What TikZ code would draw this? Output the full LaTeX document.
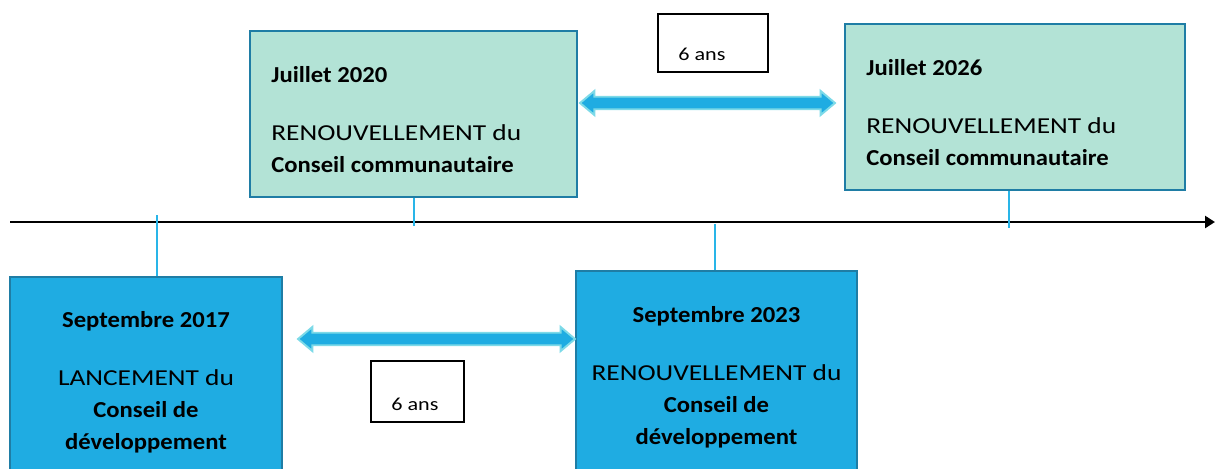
\documentclass[tikz,border=0pt]{standalone}
\usepackage{fontspec}
\setmainfont{Carlito}[UprightFeatures={FakeStretch=1.2}, BoldFeatures={FakeStretch=1.08}]
\usepackage{xcolor}
\definecolor{BoxGreen}{RGB}{179,227,214}
\definecolor{BoxBlue}{RGB}{31,172,226}
\definecolor{Edge}{RGB}{31,125,165}
\definecolor{Tick}{RGB}{41,181,232}
\definecolor{ArrowRim}{RGB}{125,218,232}
\usetikzlibrary{shapes, shapes.arrows, arrows.meta}

\begin{document}
\begin{tikzpicture}[
	boxgreen/.style={draw=Edge, fill=BoxGreen, line width=1.4pt, inner sep=0cm},
	boxblue/.style={draw=Edge, fill=BoxBlue, line width=1.4pt, inner sep=0cm},
	yearbox/.style={draw=black, line width=0.8pt, inner sep=0cm},
	gaparrow/.style={double arrow, draw=ArrowRim, fill=BoxBlue, line width=1.1pt,
		minimum width=0.48cm, inner sep=0.1cm, double arrow head extend=0.11cm,
		double arrow tip angle=80},
	tick/.style={draw=Tick, line width=1.1pt},
	txt/.style={inner sep=0cm, font=\fontsize{13}{18.2}\selectfont},
	small/.style={inner sep=0cm, font=\fontsize{10.5}{12}\selectfont}]
	\begin{scope}[x=0.02cm, y=-0.02cm]
	\useasboundingbox (0,0) rectangle (1215,468);
	\clip (0,0) rectangle (1215,468);

	% time axis
	\coordinate (ax0) at (10,222);
	\coordinate (ax1) at (1215,222);
	\draw[line width=1.4pt, -{Triangle[length=0.2cm, width=0.24cm]}] (ax0) -- (ax1);

	% top boxes
	\node[boxgreen, minimum width=6.54cm, minimum height=3.32cm] (b20) at (413.5,114) {};
	\node[boxgreen, minimum width=6.8cm, minimum height=3.32cm] (b26) at (1015,107) {};

	% bottom boxes
	\node[boxblue, minimum width=5.44cm, minimum height=4.06cm] (b17) at (146,378.5) {};
	\node[boxblue, minimum width=5.62cm, minimum height=4.18cm] (b23) at (716.5,375.5) {};

	% ticks on the axis
	\coordinate (t17) at (157,215);
	\coordinate (t20) at (414,226);
	\coordinate (t23) at (715,224);
	\coordinate (t26) at (1009,228);
	\draw[tick] (t17) -- (t17 |- b17.north);
	\draw[tick] (t20) -- (t20 |- b20.south);
	\draw[tick] (t23) -- (t23 |- b23.north);
	\draw[tick] (t26) -- (t26 |- b26.south);

	% six years
	\node[gaparrow, minimum height=5.1cm] (g1) at (707.5,103) {};
	\node[gaparrow, minimum height=5.54cm] (g2) at (436.5,339) {};
	\node[yearbox, minimum width=2.2cm, minimum height=1.16cm] (y1) at (713,43) {};
	\node[yearbox, minimum width=1.86cm, minimum height=1.22cm] (y2) at (417.5,391.5) {};
	\node[small, anchor=base west] (n1) at (678,60) {6 ans};
	\node[small, anchor=base west] (n2) at (391,410) {6 ans};

	% texts (base = last line)
	\node[txt, anchor=base west, align=left] (l20) at (271,172)
		{\textbf{Juillet 2020}\\[14.8pt] RENOUVELLEMENT du\\ \textbf{Conseil communautaire}};
	\node[txt, anchor=base west, align=left] (l26) at (866,165)
		{\textbf{Juillet 2026}\\[14.8pt] RENOUVELLEMENT du\\ \textbf{Conseil communautaire}};
	\node[txt, anchor=base, align=center] (l17) at (146,449)
		{\textbf{Septembre 2017}\\[14.8pt] LANCEMENT du\\ \textbf{Conseil de}\\ \textbf{développement}};
	\node[txt, anchor=base, align=center] (l23) at (716.5,444)
		{\textbf{Septembre 2023}\\[14.8pt] RENOUVELLEMENT du\\ \textbf{Conseil de}\\ \textbf{développement}};
	\end{scope}
\end{tikzpicture}
\end{document}
